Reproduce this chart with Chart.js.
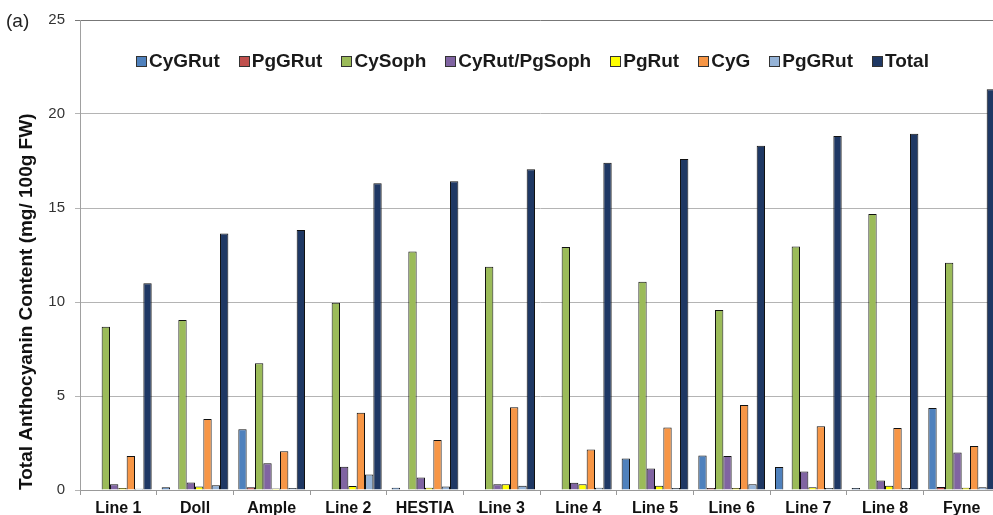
<!DOCTYPE html>
<html>
<head>
<meta charset="utf-8">
<script src="https://cdn.jsdelivr.net/npm/chart.js@4.4.1/dist/chart.umd.min.js"></script>
<style>
  html, body { margin: 0; padding: 0; background: #fff; overflow: hidden; }
  body { width: 993px; height: 515px; position: relative; font-family: "Liberation Sans", Arial, sans-serif; }
  #wrap { position: absolute; left: 0; top: 0; width: 1005px; height: 525px; }
  #panel { position: absolute; left: 6px; top: 10px; font-size: 19px; color: #222; }
  #legend { position: absolute; left: 136px; top: 50px; display: flex; align-items: center; gap: 19px; white-space: nowrap; }
  .lg-item { display: flex; align-items: center; gap: 2px; font-size: 19px; font-weight: bold; color: #1a1a1a; }
  .lg-box { width: 9px; height: 9px; border: 1px solid #333; }
</style>
</head>
<body>
<div id="wrap"><canvas id="chart" width="1005" height="525"></canvas></div>
<div id="panel">(a)</div>
<div id="legend"></div>
<script>
/* Anthocyanin content per line — grouped bars */

const categories = ["Line 1", "Doll", "Ample", "Line 2", "HESTIA", "Line 3", "Line 4", "Line 5", "Line 6", "Line 7", "Line 8", "Fyne"];

const cyGRut      = [0.02, 0.15, 3.23, 0.02, 0.12, 0.02, 0.02, 1.68, 1.83, 1.22, 0.10, 4.36];
const pgGRutRed   = [0.00, 0.00, 0.14, 0.00, 0.00, 0.00, 0.00, 0.00, 0.10, 0.00, 0.00, 0.16];
const cySoph      = [8.69, 9.04, 6.74, 9.96, 12.68, 11.88, 12.93, 11.08, 9.57, 12.95, 14.68, 12.09];
const cyRutPgSoph = [0.30, 0.40, 1.42, 1.24, 0.66, 0.30, 0.39, 1.15, 1.81, 0.99, 0.50, 1.99];
const pgRut       = [0.10, 0.18, 0.08, 0.21, 0.12, 0.30, 0.30, 0.23, 0.10, 0.14, 0.23, 0.12];
const cyG         = [1.81, 3.78, 2.06, 4.11, 2.66, 4.40, 2.16, 3.33, 4.52, 3.39, 3.30, 2.34];
const pgGRutBlue  = [0.07, 0.25, 0.10, 0.83, 0.18, 0.23, 0.12, 0.10, 0.30, 0.10, 0.10, 0.15];
const total       = [11.00, 13.65, 13.83, 16.31, 16.42, 17.06, 17.41, 17.60, 18.31, 18.83, 18.95, 21.31];

const yTicks = [0, 5, 10, 15, 20, 25];

const series = [
  { label: "CyGRut", data: cyGRut, color: "#4F81BD" },
  { label: "PgGRut", data: pgGRutRed, color: "#C0504D" },
  { label: "CySoph", data: cySoph, color: "#9BBB59" },
  { label: "CyRut/PgSoph", data: cyRutPgSoph, color: "#8064A2" },
  { label: "PgRut", data: pgRut, color: "#FFFF00" },
  { label: "CyG", data: cyG, color: "#F79646" },
  { label: "PgGRut", data: pgGRutBlue, color: "#95B3D7" },
  { label: "Total", data: total, color: "#1F3864" },
];

// ── Legend (html, sits inside the plot like the original) ────────────────

const legend = document.getElementById("legend");
series.forEach((s) => {
  const item = document.createElement("div");
  item.className = "lg-item";
  item.innerHTML = `<span class="lg-box" style="background:${s.color}"></span><span>${s.label}</span>`;
  legend.appendChild(item);
});

// ── Chart ────────────────────────────────────────────────────────────────

const FONT = "'Liberation Sans', Arial, sans-serif";

new Chart(document.getElementById("chart"), {
  type: "bar",
  data: {
    labels: categories,
    datasets: series.map((s) => ({
      label: s.label,
      data: s.data,
      backgroundColor: s.color,
      borderColor: "#111",
      borderWidth: 1,
      categoryPercentage: 0.87,
      barPercentage: 1.0,
    })),
  },
  options: {
    responsive: false,
    animation: false,
    devicePixelRatio: 1,
    layout: { padding: { top: 20, right: 5, bottom: 0, left: 0 } },
    plugins: { legend: { display: false }, tooltip: { enabled: false } },
    scales: {
      x: {
        grid: { drawOnChartArea: false, drawTicks: true, tickLength: 5, color: "#999" },
        border: { color: "#999" },
        ticks: { padding: 4, color: "#111", font: { family: FONT, size: 16, weight: "bold" } },
        afterFit: (scale) => { scale.height = 35; },
      },
      y: {
        min: 0,
        max: 25,
        afterBuildTicks: (scale) => { scale.ticks = yTicks.map((v) => ({ value: v })); },
        grid: {
          color: (ctx) => (ctx.tick && ctx.tick.value === 25 ? "#777" : "#b4b4b4"),
          tickLength: 5,
        },
        border: { color: "#a0a0a0" },
        ticks: { padding: 10, color: "#333", font: { family: FONT, size: 15 } },
        title: {
          display: true,
          text: "Total Anthocyanin Content (mg/ 100g FW)",
          align: "start",
          color: "#111",
          font: { family: FONT, size: 19, weight: "bold" },
          padding: { top: 15, bottom: 0 },
        },
        afterFit: (scale) => { scale.width = 80; },
      },
    },
  },
});
</script>
</body>
</html>
